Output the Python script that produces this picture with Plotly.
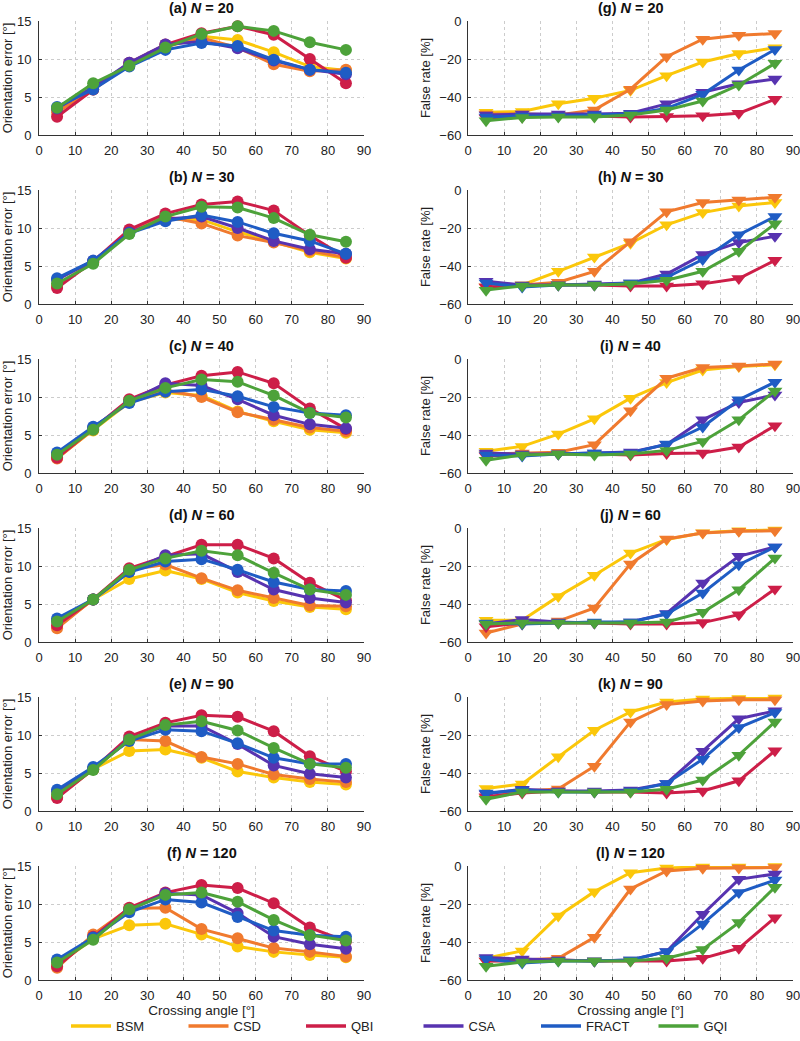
import plotly.graph_objects as go

# ---------------- data ----------------
angles = [5, 15, 25, 35, 45, 55, 65, 75, 85]
methods = ["BSM", "CSD", "QBI", "CSA", "FRACT", "GQI"]
sample_sizes = [20, 30, 40, 60, 90, 120]
err_letters = ["a", "b", "c", "d", "e", "f"]
fr_letters = ["g", "h", "i", "j", "k", "l"]
x_ticks = [0, 10, 20, 30, 40, 50, 60, 70, 80, 90]
err_ticks = [0, 5, 10, 15]
fr_ticks = [-60, -40, -20, 0]

# Orientation error [deg]
err_n20 = {
    "BSM":   [3.3, 6.3, 9.3, 11.8, 13.0, 12.5, 10.9, 9.0, 8.5],
    "CSD":   [3.0, 6.0, 9.3, 11.6, 12.8, 11.5, 9.3, 8.4, 8.6],
    "QBI":   [2.4, 6.0, 9.5, 11.9, 13.4, 14.3, 13.2, 10.0, 6.8],
    "CSA":   [3.5, 6.3, 9.5, 11.9, 12.3, 11.4, 9.8, 8.6, 8.0],
    "FRACT": [3.7, 6.0, 9.0, 11.2, 12.1, 11.7, 9.9, 8.6, 8.2],
    "GQI":   [3.6, 6.8, 9.1, 11.5, 13.3, 14.3, 13.7, 12.2, 11.2],
}
err_n30 = {
    "BSM":   [2.5, 5.5, 9.5, 11.2, 11.1, 9.5, 8.2, 6.8, 6.0],
    "CSD":   [2.4, 5.5, 9.6, 11.5, 10.6, 9.0, 8.1, 7.0, 6.1],
    "QBI":   [2.1, 5.6, 9.8, 11.9, 13.1, 13.5, 12.3, 9.0, 6.1],
    "CSA":   [3.2, 5.7, 9.4, 11.2, 11.5, 10.0, 8.3, 7.2, 6.6],
    "FRACT": [3.4, 5.7, 9.3, 10.9, 11.7, 10.8, 9.3, 8.3, 6.6],
    "GQI":   [2.7, 5.3, 9.2, 11.5, 12.8, 12.7, 11.3, 9.1, 8.2],
}
err_n40 = {
    "BSM":   [2.0, 5.6, 9.3, 10.6, 10.2, 8.1, 6.8, 5.7, 5.3],
    "CSD":   [1.9, 5.7, 9.6, 10.9, 10.0, 8.0, 7.0, 6.0, 5.5],
    "QBI":   [2.0, 5.8, 9.7, 11.6, 12.8, 13.3, 11.8, 8.5, 5.8],
    "CSA":   [2.5, 6.0, 9.4, 11.8, 11.5, 9.7, 7.6, 6.4, 5.9],
    "FRACT": [2.7, 6.1, 9.2, 10.7, 11.0, 10.1, 8.7, 7.9, 7.6],
    "GQI":   [2.4, 5.7, 9.5, 11.2, 12.3, 12.0, 10.2, 7.9, 7.3],
}
err_n60 = {
    "BSM":   [2.0, 5.6, 8.3, 9.4, 8.3, 6.5, 5.4, 4.6, 4.3],
    "CSD":   [1.8, 5.6, 9.5, 10.2, 8.4, 6.8, 5.8, 4.8, 4.7],
    "QBI":   [2.2, 5.6, 9.7, 11.3, 12.8, 12.8, 11.0, 7.8, 5.5],
    "CSA":   [2.8, 5.6, 9.3, 11.4, 11.6, 9.2, 6.9, 5.8, 5.2],
    "FRACT": [3.1, 5.6, 9.2, 10.6, 10.9, 9.5, 7.9, 6.9, 6.7],
    "GQI":   [2.7, 5.6, 9.5, 11.0, 12.0, 11.4, 9.1, 6.9, 6.2],
}
err_n90 = {
    "BSM":   [1.9, 5.5, 7.9, 8.1, 7.0, 5.2, 4.4, 3.8, 3.5],
    "CSD":   [1.8, 5.5, 9.4, 9.2, 7.1, 6.2, 4.8, 4.2, 3.8],
    "QBI":   [1.7, 5.5, 9.8, 11.6, 12.6, 12.4, 10.5, 7.2, 5.2],
    "CSA":   [2.6, 5.6, 9.4, 11.2, 11.2, 8.8, 6.0, 4.9, 4.4],
    "FRACT": [2.8, 5.8, 9.2, 10.7, 10.5, 8.9, 7.0, 6.2, 6.2],
    "GQI":   [2.2, 5.4, 9.4, 11.3, 11.8, 10.6, 8.3, 6.2, 5.7],
}
err_n120 = {
    "BSM":   [2.0, 5.4, 7.2, 7.4, 6.0, 4.4, 3.7, 3.3, 3.0],
    "CSD":   [1.6, 6.0, 9.4, 9.5, 6.7, 5.5, 4.2, 3.7, 3.1],
    "QBI":   [1.8, 5.7, 9.5, 11.5, 12.5, 12.1, 10.1, 6.9, 5.1],
    "CSA":   [2.5, 5.5, 9.2, 11.4, 11.2, 8.8, 5.7, 4.7, 4.1],
    "FRACT": [2.7, 5.6, 8.9, 10.6, 10.2, 8.3, 6.5, 5.9, 5.7],
    "GQI":   [2.3, 5.3, 9.3, 11.2, 11.5, 10.3, 7.9, 5.9, 5.2],
}

# False rate [%]
fr_n20 = {
    "BSM":   [-48, -47.6, -43.6, -40.7, -36.5, -28.8, -21.6, -17.1, -14.1],
    "CSD":   [-49, -49, -49.5, -46.8, -35.9, -18.8, -9.6, -7.5, -6.6],
    "QBI":   [-51, -50.5, -50, -50, -50.5, -50.3, -49.9, -48.5, -41.2],
    "CSA":   [-49.5, -49, -49, -49, -48.5, -43.6, -37.5, -33, -30.5],
    "FRACT": [-50.5, -50, -50, -49.5, -49, -46, -38.6, -25.8, -15.0],
    "GQI":   [-52.5, -50.8, -50.5, -50.5, -49.5, -46.8, -42.1, -33.7, -22.3],
}
fr_n30 = {
    "BSM":   [-51, -50, -42.8, -35.3, -28, -18.3, -11.9, -8.4, -6.6],
    "CSD":   [-51, -50, -48.5, -42.8, -27.2, -11.5, -6.6, -5.2, -3.8],
    "QBI":   [-51, -50.5, -50, -50, -50.5, -50.5, -49.4, -46.6, -37],
    "CSA":   [-48, -50, -50, -49.5, -49, -44.2, -34, -27.6, -24.4],
    "FRACT": [-49, -51, -50, -50, -49, -46, -36.6, -23.6, -14],
    "GQI":   [-52.7, -50.5, -50, -50, -49.5, -47.5, -42.8, -32.3, -17.8],
}
fr_n40 = {
    "BSM":   [-48.5, -46, -39.5, -31.5, -20.6, -12.4, -5.8, -4.0, -3.0],
    "CSD":   [-50, -49.5, -49.1, -45.1, -27.3, -10.1, -4.5, -3.7, -2.6],
    "QBI":   [-51, -50.5, -50, -50, -50.5, -49.8, -49.5, -46.3, -35.1],
    "CSA":   [-49.5, -50, -50, -49.5, -49, -45, -32, -22.9, -18.9],
    "FRACT": [-50.5, -51, -50, -49.5, -49.5, -44.8, -35.8, -21.5, -12.2],
    "GQI":   [-53.3, -50.5, -50, -50.5, -50, -48.1, -43.4, -32, -16.8],
}
fr_n60 = {
    "BSM":   [-48.5, -48.5, -36, -24.9, -13.2, -6, -2.5, -1.5, -1.0],
    "CSD":   [-55.3, -50.5, -49, -42.1, -18.9, -5.8, -2.6, -1.75, -1.5],
    "QBI":   [-52, -50, -50, -50, -50.5, -50.5, -49.8, -45.6, -32.1],
    "CSA":   [-50.5, -48.2, -49.5, -50, -49.5, -45, -28.9, -14.9, -10],
    "FRACT": [-50, -50.5, -50, -49.5, -49.5, -45.3, -34.2, -19.3, -10],
    "GQI":   [-50.5, -50, -50, -50, -50, -49.5, -44.4, -32.5, -15.8],
}
fr_n90 = {
    "BSM":   [-48.1, -45.8, -31.5, -17.5, -7.9, -2.6, -1.0, -0.8, -0.5],
    "CSD":   [-53, -49.5, -48.4, -36.4, -13.1, -4.0, -2.1, -1.5, -1.5],
    "QBI":   [-52.5, -50.5, -49.5, -50, -50, -50.5, -49.5, -44.1, -28.3],
    "CSA":   [-51, -48.5, -49.5, -49.5, -49, -45.5, -28.5, -11.4, -7.3],
    "FRACT": [-50.5, -49, -50, -50, -49.5, -45.5, -32.7, -16.1, -8.2],
    "GQI":   [-53.8, -50, -50, -50, -50, -48.5, -43.7, -30.6, -13.1],
}
fr_n120 = {
    "BSM":   [-48.5, -44.7, -26.3, -13.5, -3.5, -1.0, -0.5, -0.5, -0.3],
    "CSD":   [-50, -49.5, -48.6, -37.5, -12.1, -2.6, -1.2, -1.0, -0.8],
    "QBI":   [-50, -50, -49.5, -50, -50, -50, -48.6, -43.3, -27.2],
    "CSA":   [-48.1, -49, -49.5, -50, -49.5, -45, -25.4, -7.0, -4.2],
    "FRACT": [-49, -51, -50, -50, -49.5, -45.1, -30.5, -14.0, -7.4],
    "GQI":   [-52.8, -50.5, -50, -50, -50, -48.5, -43.9, -29.8, -11.2],
}

err_panels = [err_n20, err_n30, err_n40, err_n60, err_n90, err_n120]
fr_panels = [fr_n20, fr_n30, fr_n40, fr_n60, fr_n90, fr_n120]

# ---------------- style ----------------
colors = {
    "BSM": "#FBC70A",
    "CSD": "#F07A2E",
    "QBI": "#CD1E48",
    "CSA": "#5733B0",
    "FRACT": "#1F5CC4",
    "GQI": "#4DA23A",
}
FONT = "Liberation Sans, Arial, Helvetica, sans-serif"
TXT = "#222222"
W, H = 800, 1041
LEFT_X = (39, 364)
RIGHT_X = (468, 793)
ROW_TOPS = [21, 190, 359, 528, 697, 866]
PLOT_H = 114

fig = go.Figure()
annotations = []
layout_axes = {}


def axis_common():
    return dict(
        showline=True, linecolor="#333333", linewidth=1, mirror=False,
        showgrid=True, gridcolor="#CCCCCC", griddash="dot", gridwidth=1,
        zeroline=False, ticks="inside", ticklen=3, tickcolor="#333333",
        tickfont=dict(family=FONT, size=13, color=TXT),
        ticklabeloverflow="allow",
    )


ax_idx = 0
for r in range(6):
    top = ROW_TOPS[r]
    ydom = [1 - (top + PLOT_H) / H, 1 - top / H]
    for c in range(2):
        ax_idx += 1
        xname = "xaxis" if ax_idx == 1 else f"xaxis{ax_idx}"
        yname = "yaxis" if ax_idx == 1 else f"yaxis{ax_idx}"
        xref = "x" if ax_idx == 1 else f"x{ax_idx}"
        yref = "y" if ax_idx == 1 else f"y{ax_idx}"
        xpx = LEFT_X if c == 0 else RIGHT_X
        xdom = [xpx[0] / W, xpx[1] / W]

        xa = axis_common()
        xa.update(domain=xdom, anchor=yref, range=[0, 90], tickvals=x_ticks,
                  ticklabelstandoff=3)
        if r == 5:
            xa.update(title=dict(text="Crossing angle [°]",
                                 font=dict(family=FONT, size=13.5, color=TXT),
                                 standoff=3))
        ya = axis_common()
        if c == 0:
            ya.update(domain=ydom, anchor=xref, range=[0, 15], tickvals=err_ticks,
                      ticklabelstandoff=4,
                      title=dict(text="Orientation error [°]",
                                 font=dict(family=FONT, size=13, color=TXT),
                                 standoff=2))
            data = err_panels[r]
            symbol, msize = "circle", 12
            label = f"<b>({err_letters[r]}) <i>N</i> = {sample_sizes[r]}</b>"
        else:
            ya.update(domain=ydom, anchor=xref, range=[-60, 0], tickvals=fr_ticks,
                      ticklabelstandoff=3,
                      title=dict(text="False rate [%]",
                                 font=dict(family=FONT, size=13, color=TXT),
                                 standoff=5))
            data = fr_panels[r]
            symbol, msize = "triangle-down", 13
            label = f"<b>({fr_letters[r]}) <i>N</i> = {sample_sizes[r]}</b>"
        layout_axes[xname] = xa
        layout_axes[yname] = ya

        for m in methods:
            fig.add_trace(go.Scatter(
                x=angles, y=data[m], mode="lines+markers", name=m,
                line=dict(color=colors[m], width=3),
                marker=dict(symbol=symbol, size=msize, color=colors[m], line=dict(width=0)),
                xaxis=xref, yaxis=yref, showlegend=False, hoverinfo="x+y+name",
                cliponaxis=False,
            ))

        annotations.append(dict(
            text=label, x=(xdom[0] + xdom[1]) / 2, y=1 - (top - 13) / H,
            xref="paper", yref="paper", xanchor="center", yanchor="middle",
            showarrow=False, font=dict(family=FONT, size=14.5, color="#111111"),
        ))

# legend entries (lines only)
for m in methods:
    fig.add_trace(go.Scatter(
        x=[None], y=[None], mode="lines", name=m,
        line=dict(color=colors[m], width=3.5), showlegend=True,
        xaxis="x", yaxis="y",
    ))

fig.update_layout(
    width=W, height=H,
    margin=dict(l=0, r=0, t=0, b=0, autoexpand=False),
    paper_bgcolor="white", plot_bgcolor="white",
    font=dict(family=FONT, size=13, color=TXT),
    annotations=annotations,
    showlegend=True,
    legend=dict(orientation="h", x=0.0825, xanchor="left", y=0,
                yanchor="bottom", font=dict(family=FONT, size=13, color=TXT),
                entrywidth=62.5, entrywidthmode="pixels", itemwidth=40,
                bgcolor="rgba(0,0,0,0)", tracegroupgap=0),
    **layout_axes,
)

fig.write_html("out.html",
               config={"displayModeBar": False},
               post_script="document.body.style.margin='0';document.body.style.overflow='hidden';")
